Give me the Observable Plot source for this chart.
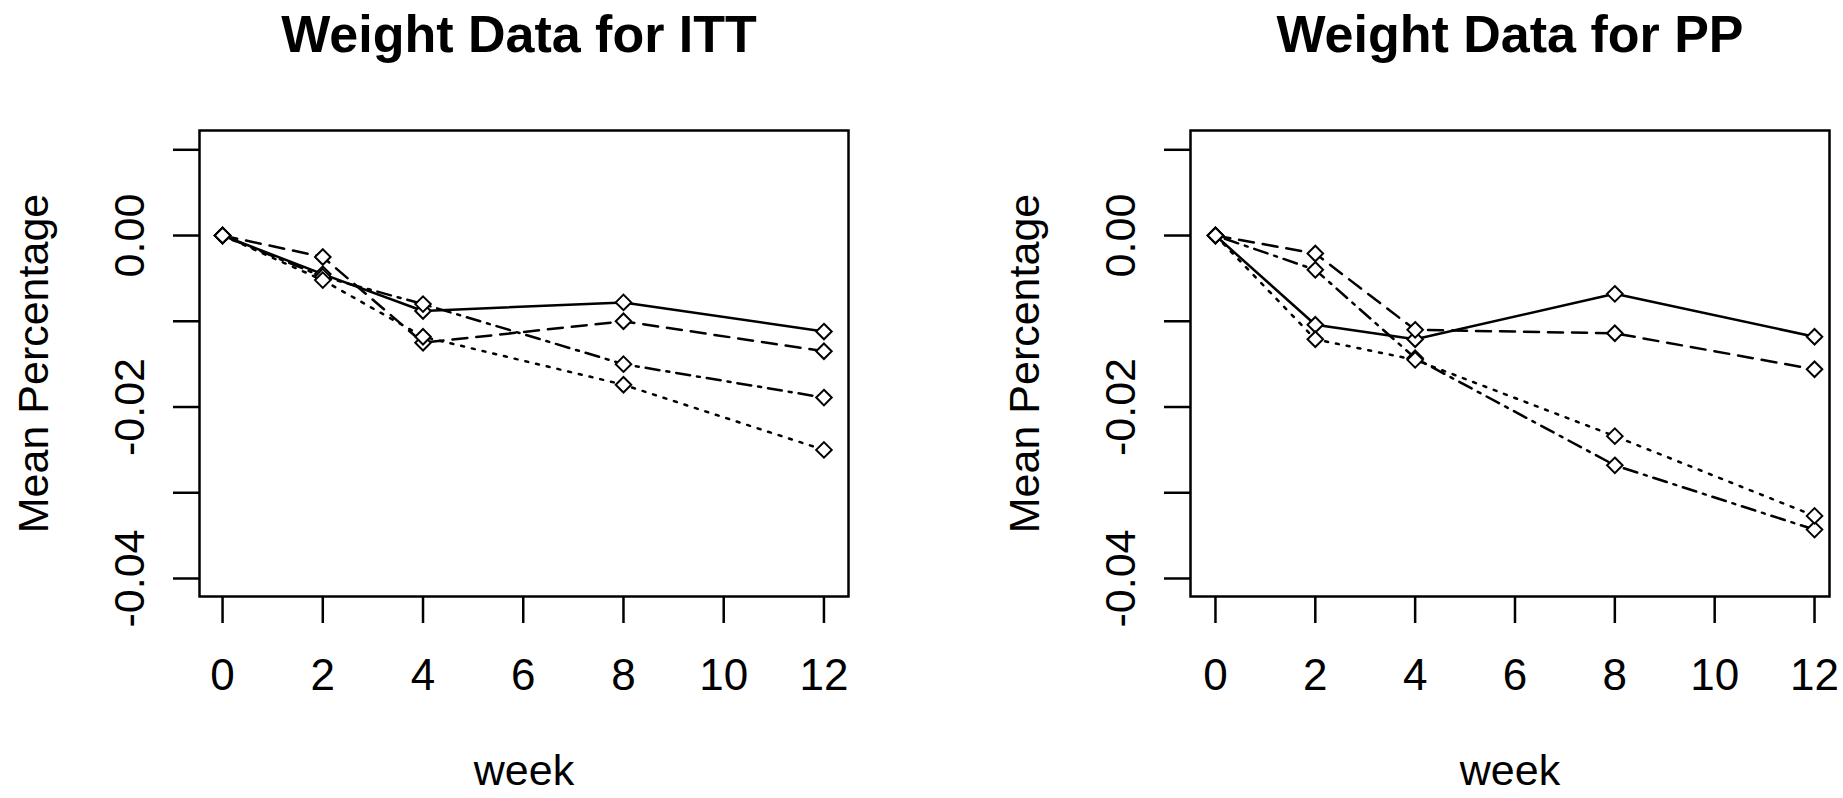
<!DOCTYPE html>
<html><head><meta charset="utf-8">
<script src="https://cdn.jsdelivr.net/npm/d3@7"></script>
<script src="https://cdn.jsdelivr.net/npm/@observablehq/plot@0.6"></script>
<style>
html,body{margin:0;padding:0;background:#fff;}
#root{position:relative;width:1843px;height:798px;overflow:hidden;background:#fff;}
.title{position:absolute;top:0;transform:translateX(-50%);white-space:nowrap;font:bold 52px/52px "Liberation Sans",Arial,sans-serif;padding-top:8px;color:#000;}
.panel{position:absolute;top:80px;}
</style></head><body>
<div id="root">
  <div class="title" id="t1" style="left:519px"></div>
  <div class="title" id="t2" style="left:1510px"></div>
  <div class="panel" id="p1" style="left:0px"></div>
  <div class="panel" id="p2" style="left:921px"></div>
</div>
<script>
// ---- data ----
const weeks = [0, 2, 4, 8, 12];
const titles = ["Weight Data for ITT", "Weight Data for PP"];
const xLabel = "week";
const yLabel = "Mean Percentage";
const xTicks = [0, 2, 4, 6, 8, 10, 12];
const xTickLabels = ["0", "2", "4", "6", "8", "10", "12"];
const yTicks = [-0.04, -0.03, -0.02, -0.01, 0, 0.01];
const yTickLabels = ["-0.04", "", "-0.02", "", "0.00", ""];

// ITT panel
const ittSolid   = [0, -0.0045, -0.0088, -0.0078, -0.0112];
const ittDashed  = [0, -0.0025, -0.0125, -0.0100, -0.0135];
const ittDotDash = [0, -0.0048, -0.0080, -0.0150, -0.0189];
const ittDotted  = [0, -0.0052, -0.0118, -0.0174, -0.0250];

// PP panel
const ppSolid   = [0, -0.0104, -0.0121, -0.0068, -0.0118];
const ppDashed  = [0, -0.0021, -0.0110, -0.0114, -0.0156];
const ppDotDash = [0, -0.0040, -0.0143, -0.0268, -0.0343];
const ppDotted  = [0, -0.0121, -0.0145, -0.0234, -0.0327];

// ---- drawing ----
const dashes = {solid: null, dashed: "15,9", dotdash: "3,7,14,7", dotted: "3,8"};
const tickFont = '"Liberation Sans",Arial,sans-serif';

function rows(values) { return weeks.map((w, i) => ({week: w, value: values[i]})); }

function panel(seriesList, {width, marginLeft, marginRight, xDomain}) {
  const marks = [
    Plot.axisX({ticks: xTicks, tickSize: 27, tickPadding: 35, strokeWidth: 2.5, label: null,
      fontSize: 44, fontFamily: tickFont,
      tickFormat: d => xTickLabels[xTicks.indexOf(d)]}),
    Plot.axisY({ticks: yTicks, tickSize: 26, tickPadding: 43, strokeWidth: 2.5, label: null,
      tickRotate: -90, lineAnchor: "middle", textAnchor: "middle",
      fontSize: 43, fontFamily: tickFont,
      tickFormat: d => yTickLabels[yTicks.indexOf(d)]}),
    Plot.frame({stroke: "black", strokeWidth: 2.5}),
    Plot.text([xLabel], {frameAnchor: "bottom", dy: 188, text: d => d, fontSize: 43}),
    Plot.text([yLabel], {frameAnchor: "left", dx: -165, rotate: -90, textAnchor: "middle",
      lineAnchor: "middle", text: d => d, fontSize: 43})
  ];
  for (const [name, vals] of seriesList) {
    marks.push(Plot.line(rows(vals), {x: "week", y: "value", stroke: "black", strokeWidth: 2.5,
      strokeDasharray: dashes[name]}));
  }
  for (const [name, vals] of seriesList) {
    marks.push(Plot.dot(rows(vals), {x: "week", y: "value", symbol: "diamond2", r: 7,
      stroke: "black", strokeWidth: 2, fill: "white"}));
  }
  return Plot.plot({
    width, height: 718,
    marginTop: 50, marginBottom: 202, marginLeft, marginRight,
    style: {fontFamily: '"Liberation Sans",Arial,sans-serif', color: "black", background: "white", overflow: "visible"},
    x: {domain: xDomain, label: null},
    y: {domain: [-0.0421, 0.01225], label: null},
    marks
  });
}

document.getElementById("t1").textContent = titles[0];
document.getElementById("t2").textContent = titles[1];

document.getElementById("p1").appendChild(panel(
  [["solid", ittSolid], ["dashed", ittDashed], ["dotdash", ittDotDash], ["dotted", ittDotted]],
  {width: 921, marginLeft: 199, marginRight: 73, xDomain: [-0.46, 12.49]}));
document.getElementById("p2").appendChild(panel(
  [["solid", ppSolid], ["dashed", ppDashed], ["dotdash", ppDotDash], ["dotted", ppDotted]],
  {width: 922, marginLeft: 269, marginRight: 14, xDomain: [-0.5, 12.3]}));
</script>
</body></html>
